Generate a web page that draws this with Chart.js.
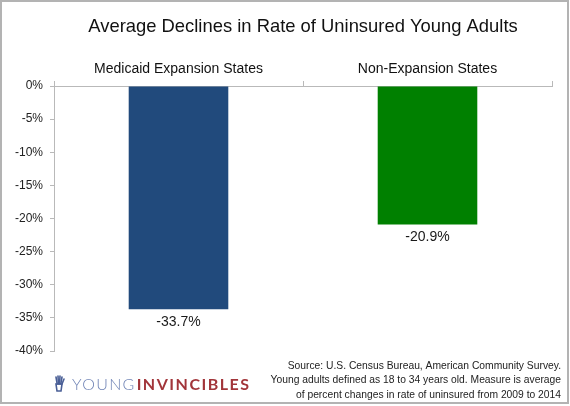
<!DOCTYPE html>
<html>
<head>
<meta charset="utf-8">
<script src="https://cdn.jsdelivr.net/npm/chart.js@4/dist/chart.umd.min.js"></script>
<style>
  html, body { margin: 0; padding: 0; background: #fff; }
  #wrap { width: 570px; height: 406px; position: relative; }
</style>
</head>
<body>
<div id="wrap"><canvas id="chart" width="570" height="406"></canvas></div>
<script>
  // data
  const chartTitle = "Average Declines in Rate of Uninsured Young Adults";
  const categories = ["Medicaid Expansion States", "Non-Expansion States"];
  const declines = [-33.7, -20.9];
  const yMin = -40, yMax = 0, yStep = 5;
  const sourceLines = [
    "Source: U.S. Census Bureau, American Community Survey.",
    "Young adults defined as 18 to 34 years old. Measure is average",
    "of percent changes in rate of uninsured from 2009 to 2014"
  ];
  const logoParts = ["YOUNG", "INVINCIBLES"];

  const FONT = '"Liberation Sans", Arial, Helvetica, sans-serif';
  const AXIS_GRAY = "#b9b9b9";

  // title, value labels, source note, logo, frame
  const decor = {
    id: "decor",
    afterDatasetsDraw(chart) {
      const ctx = chart.ctx;
      const meta = chart.getDatasetMeta(0);
      ctx.save();
      ctx.fillStyle = "#1a1a1a";
      ctx.font = "14px " + FONT;
      ctx.textAlign = "center";
      ctx.textBaseline = "middle";
      meta.data.forEach((bar, i) => {
        ctx.fillText(declines[i].toFixed(1) + "%", bar.x, bar.y + 13);
      });
      ctx.restore();
    },
    afterDraw(chart) {
      const ctx = chart.ctx;
      ctx.save();
      // title
      ctx.fillStyle = "#111";
      ctx.font = "18.4px " + FONT;
      ctx.textAlign = "center";
      ctx.textBaseline = "middle";
      ctx.fillText(chartTitle, 303, 27);

      // source note
      ctx.font = "10.3px " + FONT;
      ctx.textAlign = "right";
      ctx.fillStyle = "#222";
      sourceLines.forEach((t, i) => ctx.fillText(t, 561, 366 + i * 14.5));

      // logo
      drawLogo(ctx, 54, 385);

      // frame
      ctx.strokeStyle = "#b3b3b3";
      ctx.lineWidth = 2;
      ctx.strokeRect(1, 1, 567, 402);
      ctx.restore();
    }
  };

  function drawLogo(ctx, x, y) {
    // little raised-hands mark
    ctx.save();
    ctx.strokeStyle = "#4a5f96";
    ctx.lineWidth = 1.6;
    ctx.lineCap = "round";
    [[-3, -8], [-1, -9], [1, -9], [3, -8], [5, -6]].forEach(([dx, dy]) => {
      ctx.beginPath();
      ctx.moveTo(x + 5 + dx * 0.6, y - 1);
      ctx.lineTo(x + 5 + dx, y + dy);
      ctx.stroke();
    });
    ctx.beginPath();
    ctx.moveTo(x + 2, y - 1);
    ctx.lineTo(x + 8, y - 1);
    ctx.lineTo(x + 7, y + 6);
    ctx.lineTo(x + 3, y + 6);
    ctx.closePath();
    ctx.stroke();
    ctx.restore();

    ctx.save();
    ctx.textBaseline = "middle";
    ctx.textAlign = "left";
    ctx.letterSpacing = "1.3px";
    ctx.font = "300 16px Lato, 'Open Sans', sans-serif";
    ctx.fillStyle = "#6f83b5";
    ctx.fillText(logoParts[0], x + 18, y);
    const w = ctx.measureText(logoParts[0]).width;
    ctx.font = "bold 16px Lato, 'Open Sans', sans-serif";
    ctx.fillStyle = "#a2353a";
    ctx.letterSpacing = "1.5px";
    ctx.fillText(logoParts[1], x + 19 + w, y);
    ctx.restore();
  }

  new Chart(document.getElementById("chart"), {
    type: "bar",
    data: {
      labels: categories,
      datasets: [{
        data: declines,
        backgroundColor: ["#214a7c", "#008000"],
        borderWidth: 0,
        barPercentage: 0.4,
        categoryPercentage: 1.0
      }]
    },
    options: {
      responsive: false,
      animation: false,
      devicePixelRatio: 1,
      layout: { padding: { left: 0, right: 18, top: 56, bottom: 55 } },
      plugins: {
        legend: { display: false },
        tooltip: { enabled: false }
      },
      scales: {
        x: {
          position: "top",
          offset: true,
          afterFit: s => { s.height = 30; },
          border: { color: AXIS_GRAY, width: 1 },
          grid: {
            offset: true,
            drawOnChartArea: false,
            drawTicks: true,
            tickLength: 5,
            color: AXIS_GRAY
          },
          ticks: {
            color: "#111",
            padding: 3,
            maxRotation: 0,
            font: { family: FONT, size: 14 }
          }
        },
        y: {
          min: yMin,
          max: yMax,
          afterFit: s => { s.width = 54; },
          border: { color: AXIS_GRAY, width: 1 },
          grid: {
            drawOnChartArea: false,
            drawTicks: true,
            tickLength: 4,
            color: AXIS_GRAY
          },
          ticks: {
            stepSize: yStep,
            color: "#222",
            padding: 7,
            font: { family: FONT, size: 12 },
            callback: v => v + "%"
          }
        }
      }
    },
    plugins: [decor]
  });
</script>
</body>
</html>
